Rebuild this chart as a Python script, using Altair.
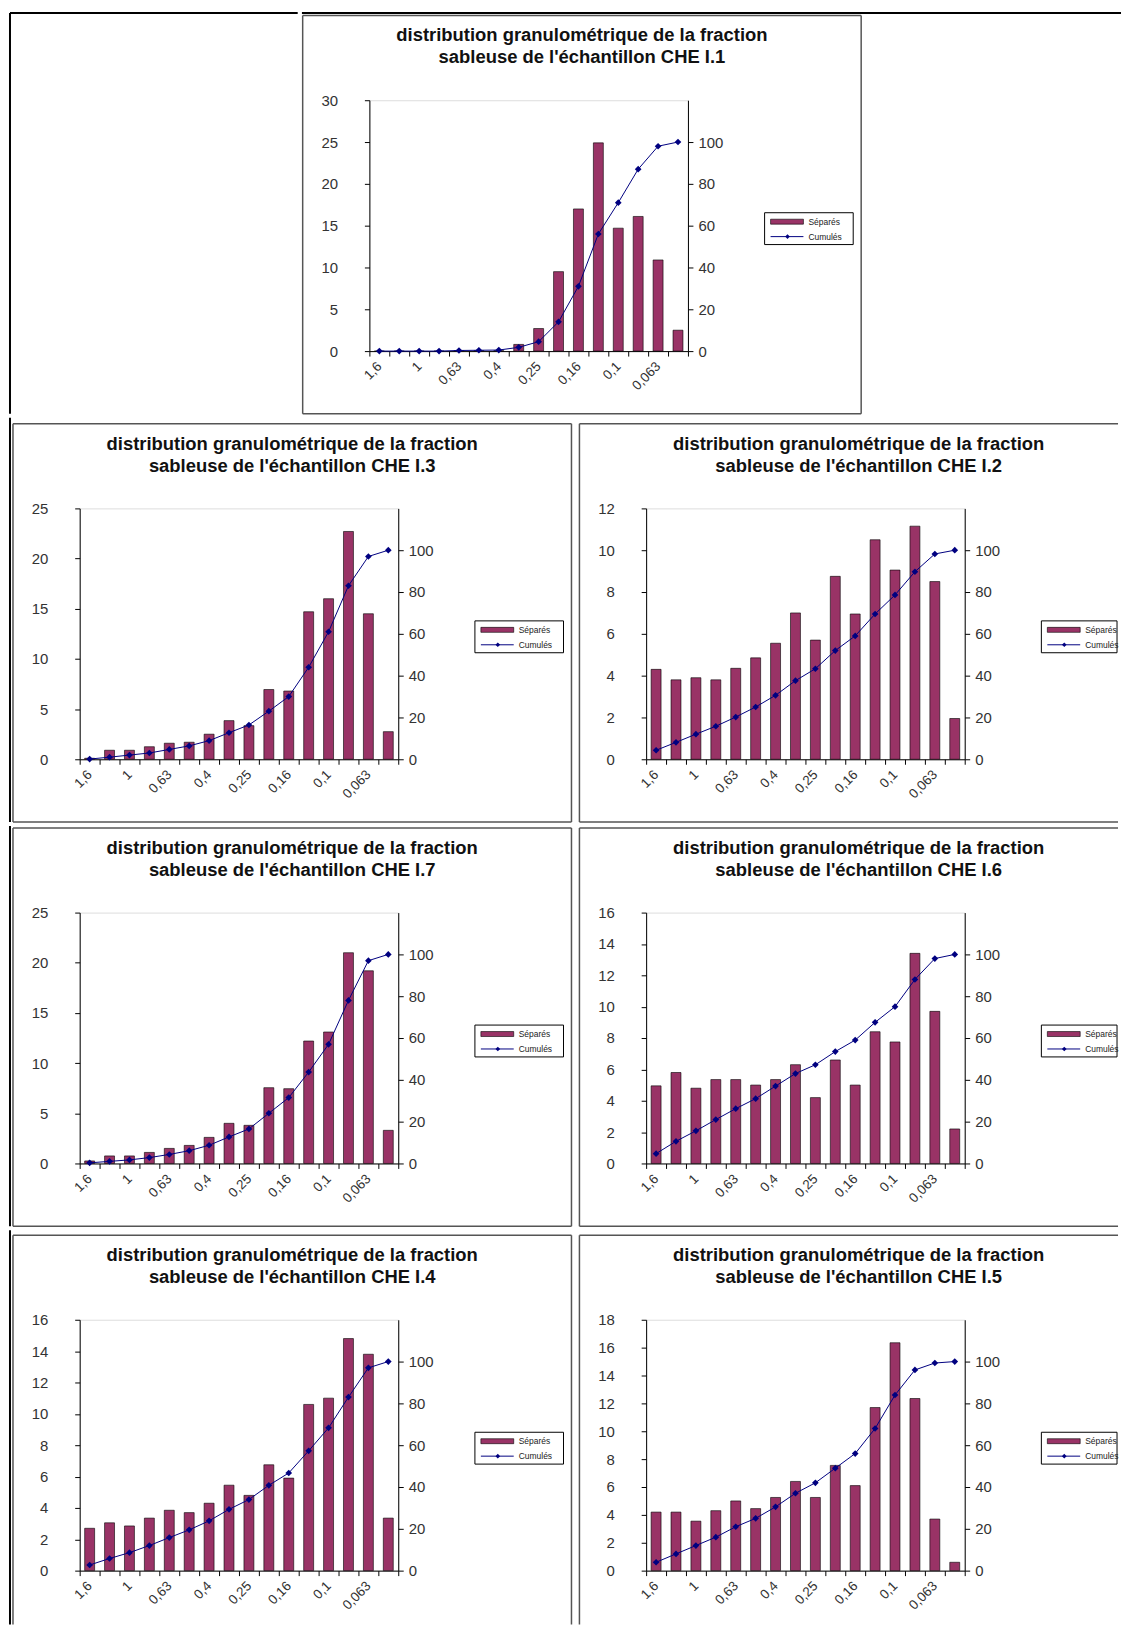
import altair as alt
import pandas as pd

# ---------------- data ----------------
CATS = ["1,6", "1,25", "1", "0,8", "0,63", "0,5", "0,4", "0,315",
        "0,25", "0,2", "0,16", "0,125", "0,1", "0,08", "0,063", "0,05"]
SHOWN = ["1,6", "1", "0,63", "0,4", "0,25", "0,16", "0,1", "0,063"]

TITLE_LINE1 = "distribution granulométrique de la fraction"
TITLE_LINE2 = "sableuse de l'échantillon CHE "

I1_sep = [0, 0, 0, 0, 0.05, 0.05, 0.05, 0.8, 2.7, 9.5, 17.0, 24.9, 14.7, 16.1, 10.9, 2.5]
I1_cum = [0, 0, 0, 0, 0.3, 0.4, 0.5, 1.8, 4.5, 14, 31, 56, 71, 87, 98, 100]

I3_sep = [0.1, 0.9, 0.9, 1.25, 1.6, 1.7, 2.5, 3.85, 3.35, 6.95, 6.8, 14.7, 16.0, 22.7, 14.5, 2.75]
I3_cum = [0.1, 1, 2, 3, 4.7, 6.4, 8.9, 12.7, 16.4, 23, 30, 44, 61, 83, 97, 100]

I2_sep = [4.3, 3.8, 3.9, 3.8, 4.35, 4.85, 5.55, 7.0, 5.7, 8.75, 6.95, 10.5, 9.05, 11.15, 8.5, 1.95]
I2_cum = [4.3, 8.1, 12, 15.8, 20.2, 25, 30.6, 37.6, 43.3, 52, 59, 69.5, 78.6, 89.7, 98.2, 100]

I7_sep = [0.25, 0.75, 0.75, 1.1, 1.5, 1.8, 2.6, 4.0, 3.8, 7.55, 7.45, 12.2, 13.1, 21.0, 19.2, 3.3]
I7_cum = [0.3, 1, 1.7, 2.8, 4.3, 6.1, 8.7, 12.7, 16.5, 24, 31.5, 43.7, 57, 78, 97, 100]

I6_sep = [4.95, 5.8, 4.8, 5.35, 5.35, 5.0, 5.35, 6.3, 4.2, 6.6, 5.0, 8.4, 7.75, 13.4, 9.7, 2.2]
I6_cum = [4.7, 10.6, 15.6, 21, 26.2, 31, 37, 43, 47.2, 53.5, 59, 67.5, 75, 88, 98, 100]

I4_sep = [2.7, 3.05, 2.85, 3.35, 3.85, 3.7, 4.3, 5.45, 4.8, 6.75, 5.9, 10.6, 11.0, 14.8, 13.8, 3.35]
I4_cum = [2.7, 5.8, 8.6, 12, 15.8, 19.5, 23.8, 29.3, 34, 40.8, 46.7, 57.3, 68.3, 83, 97, 100]

I5_sep = [4.2, 4.2, 3.55, 4.3, 5.0, 4.45, 5.25, 6.4, 5.25, 7.55, 6.1, 11.7, 16.35, 12.35, 3.7, 0.6]
I5_cum = [4, 8, 12, 16, 21, 25, 30.5, 37, 42, 49, 56, 68, 84, 96, 99.3, 100]

LEGEND_LABELS = ["Séparés", "Cumulés"]

# ---------------- style ----------------
W, H = 320, 252
FX, FY, FW, FH = -67, -85, 561, 400
BAR = "#993366"
NAVY = "#000080"
FONT = "Liberation Sans"
FRAME = "#555555"
TICKFONT = 15
ONE = pd.DataFrame({"k": [0]})

label_list = "[" + ",".join("'%s'" % s for s in SHOWN) + "]"


def rule(x, y, x2=None, y2=None, color=FRAME, width=1.5):
    enc = {"x": alt.value(x), "y": alt.value(y)}
    if x2 is not None:
        enc["x2"] = alt.value(x2)
    if y2 is not None:
        enc["y2"] = alt.value(y2)
    return alt.Chart(ONE).mark_rule(color=color, strokeWidth=width).encode(**enc)


def panel(sample, sep, cum, ymax, ystep, gap=0, kind="left", fw=FW, fh=FH):
    df = pd.DataFrame({"cat": CATS, "sep": sep, "cum": cum})
    xaxis = alt.Axis(
        title=None, labelAngle=315, labelAlign="right", labelBaseline="top",
        labelExpr="indexof(%s, datum.label) >= 0 ? datum.label : ''" % label_list,
        labelOverlap=False, labelBound=False, tickBand="extent", tickSize=5,
        labelPadding=3, labelOffset=-5, labelFontSize=13.5, labelColor="#333333",
        domainColor="black", tickColor="black", labelFont=FONT,
    )
    xenc = alt.X("cat:N", sort=CATS, title=None,
                 scale=alt.Scale(paddingInner=0, paddingOuter=0), axis=xaxis)

    bars = alt.Chart(df).mark_bar(color=BAR, stroke="black", strokeWidth=0.6, size=10).encode(
        x=xenc,
        y=alt.Y("sep:Q", title=None,
                scale=alt.Scale(domain=[0, ymax], nice=False),
                axis=alt.Axis(values=list(range(0, ymax + 1, ystep)), grid=False,
                              tickSize=5, labelPadding=27, labelFontSize=TICKFONT,
                              labelColor="#333333", domainColor="black",
                              tickColor="black", labelFont=FONT)),
    )
    yright = alt.Scale(domain=[0, 120], nice=False)
    line = alt.Chart(df).mark_line(color=NAVY, strokeWidth=1).encode(
        x=xenc,
        y=alt.Y("cum:Q", title=None, scale=yright,
                axis=alt.Axis(orient="right", values=[0, 20, 40, 60, 80, 100], grid=False,
                              tickSize=5, labelPadding=5, labelFontSize=TICKFONT,
                              labelColor="#333333", domainColor="black",
                              tickColor="black", labelFont=FONT)),
    )
    pts = alt.Chart(df).mark_point(shape="diamond", filled=True, size=45, color=NAVY,
                                   opacity=1).encode(
        x=xenc, y=alt.Y("cum:Q", scale=yright, axis=None))

    # panel frame (sides cut by the page edge are left open)
    deco = []
    right_open = kind == "right"
    bottom_open = fh < FH
    deco.append(rule(FX, FY, x2=FX + fw))
    deco.append(rule(FX, FY, y2=FY + fh))
    if not right_open:
        deco.append(rule(FX + fw, FY, y2=FY + fh))
    if not bottom_open:
        deco.append(rule(FX, FY + fh, x2=FX + fw))

    # outer page border
    if kind == "top":
        deco.append(rule(FX - 0.75, FY - 2.5, x2=755, color="black", width=2))
    elif kind == "left":
        deco.append(rule(FX - 3, FY - gap, y2=FY + fh, color="black", width=2))
    elif gap > 2:
        deco.append(rule(100, FY - gap, y2=FY - 2, color="white", width=1))

    title = alt.Chart(ONE).mark_text(
        text=[TITLE_LINE1, TITLE_LINE2 + sample], font=FONT, fontSize=18.5,
        fontWeight="bold", align="center", baseline="middle", lineHeight=22,
        color="#111111").encode(x=alt.value(FX + FW / 2), y=alt.value(-65))

    box_r = 486 if kind != "right" else FX + fw - 1
    lg_box = alt.Chart(ONE).mark_rect(fill="white", stroke="black", strokeWidth=1).encode(
        x=alt.value(397), x2=alt.value(box_r), y=alt.value(113), y2=alt.value(145))
    lg_sw = alt.Chart(ONE).mark_rect(fill=BAR, stroke="black", strokeWidth=0.6).encode(
        x=alt.value(403), x2=alt.value(436), y=alt.value(119.5), y2=alt.value(124.5))
    lg_ln = rule(403, 137, x2=436, color=NAVY, width=1)
    lg_pt = alt.Chart(ONE).mark_point(shape="diamond", filled=True, size=22, color=NAVY,
                                      opacity=1).encode(x=alt.value(420), y=alt.value(137))
    lg_t1 = alt.Chart(ONE).mark_text(text=LEGEND_LABELS[0], font=FONT, fontSize=8.5,
                                     align="left", baseline="middle", color="#222222").encode(
        x=alt.value(441), y=alt.value(122))
    lg_t2 = alt.Chart(ONE).mark_text(text=LEGEND_LABELS[1], font=FONT, fontSize=8.5,
                                     align="left", baseline="middle", color="#222222").encode(
        x=alt.value(441), y=alt.value(137))

    layers = deco + [title, lg_box, lg_sw, lg_ln, lg_pt, lg_t1, lg_t2, bars, line, pts]
    return alt.layer(*layers).resolve_scale(y="independent").properties(width=W, height=H)


# left spacer for the top row: carries the outer page border (left and top edges)
SPACER_W = 219
spacer = alt.layer(
    rule(FX - 3, FY - 2.5, y2=FY + FH, color="black", width=2),
    rule(FX - 3, FY - 2.5, x2=SPACER_W, color="black", width=2),
).properties(width=SPACER_W, height=10, view=alt.ViewBackground(stroke="transparent"))

FW_R = 541
top = alt.hconcat(spacer, panel("I.1", I1_sep, I1_cum, 30, 5, kind="top"), spacing=0)
r1 = alt.hconcat(panel("I.3", I3_sep, I3_cum, 25, 5, gap=6, kind="left"),
                 panel("I.2", I2_sep, I2_cum, 12, 2, gap=6, kind="right", fw=FW_R), spacing=4)
r2 = alt.hconcat(panel("I.7", I7_sep, I7_cum, 25, 5, gap=2, kind="left"),
                 panel("I.6", I6_sep, I6_cum, 16, 2, gap=2, kind="right", fw=FW_R), spacing=4)
r3 = alt.hconcat(panel("I.4", I4_sep, I4_cum, 16, 2, gap=5, kind="left", fh=391),
                 panel("I.5", I5_sep, I5_cum, 18, 2, gap=5, kind="right", fw=FW_R, fh=391),
                 spacing=4)

chart = alt.vconcat(top, r1, r2, r3, spacing=0).properties(
    padding={"left": 0, "top": 0, "right": 0, "bottom": 0}
).configure_view(stroke="black", strokeWidth=1).configure(font=FONT)

chart.save("out.html", embed_options={"renderer": "svg", "actions": False})
